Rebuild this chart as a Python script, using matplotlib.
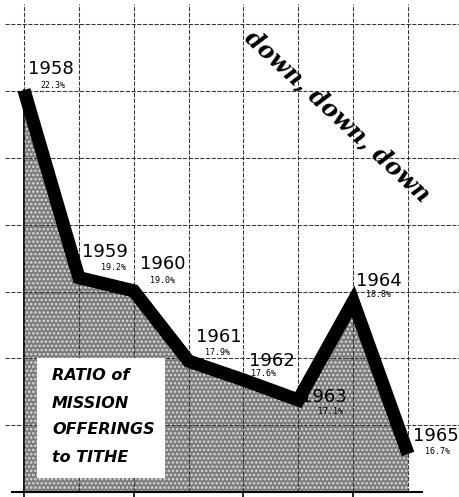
import numpy as np
import matplotlib
matplotlib.use('Agg')
import matplotlib.pyplot as plt
from matplotlib.patches import Rectangle

# data
years = [1958, 1959, 1960, 1961, 1962, 1963, 1964, 1965]
ratio_labels = ['22.3%', '19.2%', '19.0%', '17.9%', '17.6%', '17.1%', '18.8%', '16.7%']
# height of the line as it is drawn on the chart (percent)
drawn_level = [22.23, 19.24, 19.03, 17.91, 17.61, 17.29, 18.86, 16.43]

# label offsets from each point, in pixels (year label, percent label)
year_offsets = [(4, 21), (3, 26), (6, 27), (7, 24), (6, 19), (3, 3), (3, 21), (5, 18)]
pct_offsets = [(16, 4), (22, 10), (16, 10), (16, 9), (8, 6), (20, -11), (13, 7), (17, 3)]

base = 15.825
grid_step = 1.0644

fig = plt.figure(figsize=(4.6, 4.97), dpi=100)
ax = fig.add_axes([0, 0, 1, 1])
ax.set_xlim(1957.5625, 1965.947)
ax.set_ylim(15.745, 23.664)
ax.axis('off')

plt.rcParams['hatch.linewidth'] = 1.2

# stippled area under the line
ax.fill_between(years, drawn_level, base, facecolor='#7c7c7c', hatch='....',
                edgecolor='#dcdcdc', linewidth=0, zorder=1)
ax.plot([years[0], years[0]], [base, drawn_level[0]], color='black', lw=1.3, zorder=2)

# hand-ruled dashed grid
for yr in years:
    ax.plot([yr, yr], [base, 23.6], color='#333333', lw=0.75,
            dashes=(4, 1.5), zorder=2)
for k in range(1, 8):
    ax.plot([1957.65, 1965.947], [base + k * grid_step] * 2, color='#333333',
            lw=0.75, dashes=(4, 1.5), zorder=2)

# baseline with ticks
ax.plot([1957.78, 1965.25], [base, base], color='black', lw=1.5, zorder=3)
ax.vlines(years[::2], base - 0.08, base, color='black', lw=1.2, zorder=3)

# title box
ax.add_patch(Rectangle((37 / 460, 1 - 478 / 497), 128 / 460, 120 / 497,
                       transform=ax.transAxes, facecolor='white',
                       edgecolor='none', zorder=3))
for i, line in enumerate(['RATIO of', 'MISSION', 'OFFERINGS', 'to TITHE']):
    ax.text(52 / 460, 1 - (376 + 27 * i) / 497, line, transform=ax.transAxes,
            fontsize=11.5, fontweight='heavy', fontstyle='italic',
            family='DejaVu Sans', va='center', ha='left', zorder=4)

# the thick line
ax.plot(years, drawn_level, color='black', lw=9.5, solid_joinstyle='miter',
        solid_capstyle='butt', zorder=5)

for yr, lv, lab, yo, po in zip(years, drawn_level, ratio_labels,
                               year_offsets, pct_offsets):
    ax.annotate(str(yr), (yr, lv), xytext=yo, textcoords='offset pixels',
                fontsize=13, family='DejaVu Sans', ha='left', va='center',
                zorder=6)
    ax.annotate(lab, (yr, lv), xytext=po, textcoords='offset pixels',
                fontsize=6, family='DejaVu Sans Mono', ha='left', va='center',
                zorder=6)

ax.text(338 / 460, 1 - 116 / 497, 'down, down, down', transform=ax.transAxes,
        rotation=-42.5, rotation_mode='anchor', ha='center', va='center',
        fontsize=17, fontweight='bold', fontstyle='italic', family='DejaVu Serif',
        zorder=6)

fig.savefig('out.png', dpi=100, facecolor='white')
